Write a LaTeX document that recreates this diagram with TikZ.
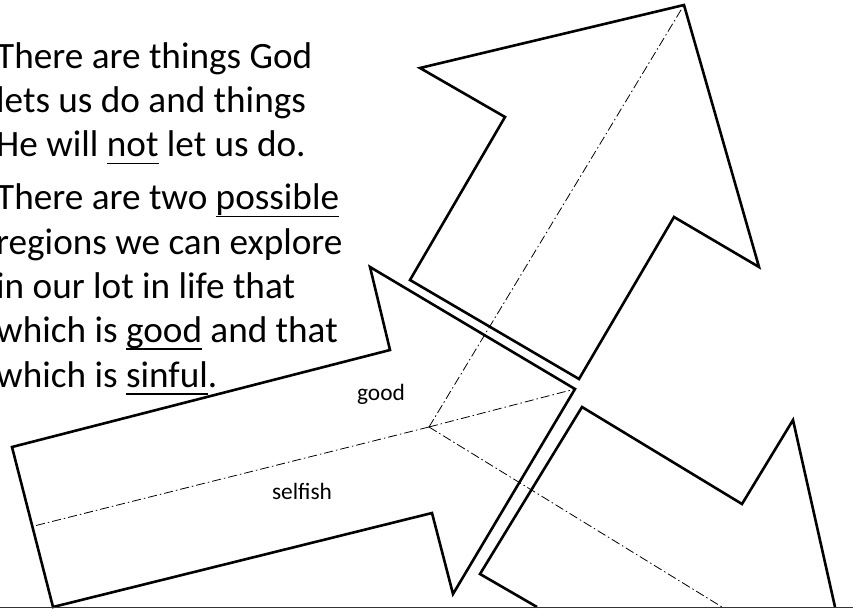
\documentclass[tikz,border=0pt]{standalone}
\usepackage{fontspec}
\setmainfont{Carlito}
\newlength\ulwd
\newcommand\ulword[1]{\settowidth\ulwd{#1}\rlap{\rule[-7.5pt]{\ulwd}{1.8pt}}#1}

\begin{document}
\begin{tikzpicture}[x=1pt, y=-1pt,
    arrowline/.style={line width=2.6pt, line join=miter},
    centreline/.style={line width=0.8pt, dash pattern=on 9pt off 3pt on 1.5pt off 3pt},
    tag/.style={font=\fontsize{23.4}{28}\selectfont, inner sep=0, anchor=base}]
    \useasboundingbox (0,0) rectangle (853,609);
    % text on the left (base = last line)
    \node[anchor=base west, align=left, inner sep=0, font=\fontsize{37.2}{44.3}\selectfont] (intro) at (-4,387)
        {There are things God\\ lets us do and things\\ He will \ulword{not} let us do.\\[8.7pt]
         There are two \ulword{possible}\\ regions we can explore\\ in our lot in life that\\
         which is \ulword{good} and that\\ which is \ulword{sinful}.};
    % the three arrows
    \coordinate (hub) at (429,427);
    \coordinate (uptip) at (684,5);
    \coordinate (lefttip) at (575,389);
    \coordinate (leftend) at (30,527);
    \coordinate (downend) at (722,607);
    \draw[arrowline] (uptip) -- (759,267) -- (674,217) -- (579,379) -- (410,280) -- (505,117) -- (420,68) -- cycle;
    \draw[arrowline] (lefttip) -- (453,594) -- (432,513) -- (53,607) -- (12,447) -- (390,350) -- (370,267) -- cycle;
    \draw[arrowline] (537,607) -- (480,574) -- (582,407) -- (742,504) -- (793,420) -- (835,607);
    % centre lines
    \draw[centreline] (hub) -- (uptip);
    \draw[centreline] (hub) -- (lefttip);
    \draw[centreline] (hub) -- (leftend);
    \draw[centreline] (hub) -- (downend);
    \node[tag] (good) at (381,400) {good};
    \node[tag] (selfish) at (302,499) {selfish};
    % bottom edge
    \draw[line width=1.2pt, black!80] (0,607.5) -- (853,607.5);
\end{tikzpicture}
\end{document}
